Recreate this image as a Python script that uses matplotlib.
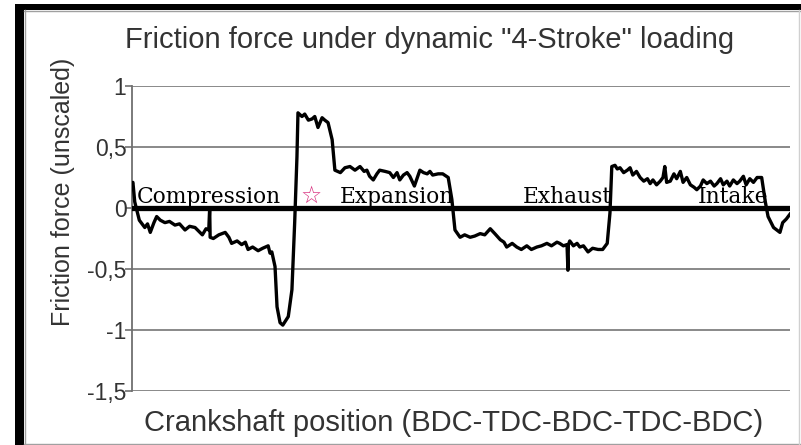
import matplotlib
matplotlib.use('Agg')
import matplotlib.pyplot as plt
from matplotlib.patches import Rectangle
from matplotlib.lines import Line2D

# ── Data: (crank angle in degrees, friction force unscaled) per stroke ──
compression = [(0, 0.20), (1, 0.21), (3, 0.05), (8, -0.10), (14, -0.16), (17, -0.13),
               (20, -0.20), (24, -0.12), (27, -0.07), (31, -0.10), (36, -0.12),
               (41, -0.11), (47, -0.14), (52, -0.13), (58, -0.18), (63, -0.15),
               (69, -0.16), (73, -0.19), (77, -0.22), (81, -0.17), (84, -0.18),
               (85, 0.0), (85.5, -0.24), (89, -0.25), (95, -0.22), (102, -0.20),
               (106, -0.24), (109, -0.29), (115, -0.27), (120, -0.30), (124, -0.28),
               (127, -0.34), (132, -0.32), (138, -0.35), (143, -0.33), (149, -0.31),
               (151, -0.37), (153, -0.36), (156.5, -0.48), (158.7, -0.81), (162, -0.94),
               (165, -0.96), (171, -0.89), (175, -0.67), (178, -0.12)]
expansion = [(180.5, 0.42), (181.6, 0.78), (186, 0.75), (189, 0.77), (193, 0.72),
             (197, 0.73), (200, 0.75), (203.5, 0.66), (208, 0.74), (211, 0.72),
             (214.5, 0.70), (219, 0.56), (222, 0.31), (228, 0.29), (233, 0.33),
             (238.5, 0.34), (244, 0.31), (249.5, 0.34), (254, 0.30), (257, 0.31),
             (260, 0.26), (264, 0.23), (268, 0.28), (271, 0.31), (277, 0.30),
             (282, 0.29), (286, 0.25), (290, 0.29), (293, 0.23), (297, 0.27),
             (301, 0.29), (304, 0.26), (309, 0.18), (315, 0.31), (319, 0.29),
             (323, 0.28), (326, 0.30), (329, 0.27), (335, 0.28), (340, 0.28),
             (346, 0.25), (350, 0.07), (353.4, -0.18)]
exhaust = [(359, -0.24), (364, -0.22), (370, -0.24), (375, -0.23), (381, -0.21),
           (386, -0.22), (392, -0.17), (397, -0.21), (403, -0.26), (407, -0.28),
           (410, -0.32), (416, -0.29), (421, -0.32), (426, -0.34), (432, -0.31),
           (437, -0.34), (443, -0.32), (448, -0.31), (454, -0.29), (459, -0.31),
           (465, -0.28), (468, -0.29), (472, -0.31), (476, -0.30), (477, -0.51),
           (477.5, -0.30), (479, -0.27), (483, -0.31), (487, -0.29), (490, -0.32),
           (494, -0.31), (499, -0.36), (504, -0.33), (510, -0.34), (515, -0.34),
           (520, -0.29), (523, -0.04), (525, 0.34)]
intake = [(528.5, 0.35), (531, 0.32), (534, 0.33), (538, 0.29), (542, 0.31),
          (545, 0.33), (548, 0.27), (552, 0.30), (556, 0.25), (560, 0.22),
          (564, 0.24), (567, 0.20), (570, 0.23), (574, 0.19), (578, 0.22),
          (581, 0.25), (583, 0.34), (585, 0.21), (589, 0.22), (593, 0.28),
          (596, 0.24), (600, 0.30), (603, 0.21), (607, 0.25), (611, 0.19),
          (615, 0.17), (618, 0.15), (622, 0.18), (625, 0.23), (629, 0.20),
          (633, 0.22), (637, 0.18), (640, 0.20), (644, 0.24), (647, 0.19),
          (651, 0.22), (654, 0.18), (658, 0.23), (662, 0.20), (665, 0.22),
          (669, 0.26), (672, 0.19), (676, 0.24), (680, 0.21), (684, 0.25),
          (689, 0.25), (693, 0.05), (696, -0.07), (702, -0.16), (709, -0.20),
          (712, -0.12), (716, -0.09), (720, -0.05)]

strokes     = ['Compression', 'Expansion', 'Exhaust', 'Intake']
stroke_x    = [5.5, 227.6, 427.8, 619.3]
yticks      = [1, 0.5, 0, -0.5, -1, -1.5]
ytick_lbls  = ['1', '0,5', '0', '-0,5', '-1', '-1,5']

crank, force = zip(*(compression + expansion + exhaust + intake))

# ── Figure ───────────────────────────────────────────────────────────
fig = plt.figure(figsize=(8.01, 4.45), dpi=100)
ax = fig.add_axes([132 / 801, 1 - 391 / 445, (790 - 132) / 801, (391 - 86) / 445])

ax.plot(crank, force, color='black', lw=2.4, zorder=3)
ax.axhline(0, color='black', lw=3.8, zorder=4)

for name, xs in zip(strokes, stroke_x):
    ax.text(xs, 0.04, name, family='DejaVu Serif', fontsize=15.7,
            ha='left', va='baseline', zorder=5)
ax.text(196, 0.10, '\u2606', color='#d8307f', fontsize=17, fontweight='bold',
        ha='center', va='center', family='DejaVu Sans', zorder=5)

ax.set_xlim(0, 720)
ax.set_ylim(-1.5, 1)
ax.set_xticks([])
ax.set_yticks(yticks)
ax.set_yticklabels(ytick_lbls, family='Liberation Sans', fontsize=16.5, color='#333333')
ax.tick_params(axis='y', length=5, width=1.2, color='#707070', pad=-1)
ax.grid(axis='y', color='#808080', lw=1.3, zorder=1)
ax.spines[['top', 'right', 'bottom']].set_visible(False)
ax.spines['left'].set_color('#707070')
ax.spines['left'].set_linewidth(1.3)

fig.text(430 / 801, 1 - 40 / 445, 'Friction force under dynamic "4-Stroke" loading',
         family='Liberation Sans', fontsize=21, ha='center', va='center', color='#333333')
fig.text(63 / 801, 1 - 192 / 445, 'Friction force (unscaled)', rotation=90,
         family='Liberation Sans', fontsize=18, ha='center', va='center', color='#333333')
fig.text(454 / 801, 1 - 423 / 445, 'Crankshaft position (BDC-TDC-BDC-TDC-BDC)',
         family='Liberation Sans', fontsize=21, ha='center', va='center', color='#333333')

# ── Frame around the picture ─────────────────────────────────────────
W, H = 801, 445
fig.add_artist(Rectangle((15 / W, 1 - 10 / H), 1 - 15 / W, 6 / H, transform=fig.transFigure,
                         color='black', lw=0))
fig.add_artist(Rectangle((15 / W, 0), 9 / W, 1 - 4 / H, transform=fig.transFigure,
                         color='black', lw=0))
fig.add_artist(Line2D([24.5 / W, 24.5 / W], [0, 1 - 10 / H], transform=fig.transFigure,
                      color='#a0a0a0', lw=1))
fig.add_artist(Line2D([24 / W, 1], [1 - 11 / H, 1 - 11 / H], transform=fig.transFigure,
                      color='#a0a0a0', lw=1))
fig.add_artist(Line2D([24 / W, 1], [1.5 / H, 1.5 / H], transform=fig.transFigure,
                      color='#a0a0a0', lw=1))
fig.add_artist(Line2D([799 / W, 799 / W], [0, 1 - 10 / H], transform=fig.transFigure,
                      color='#d0d0d0', lw=1))

fig.savefig('out.png', dpi=100)
